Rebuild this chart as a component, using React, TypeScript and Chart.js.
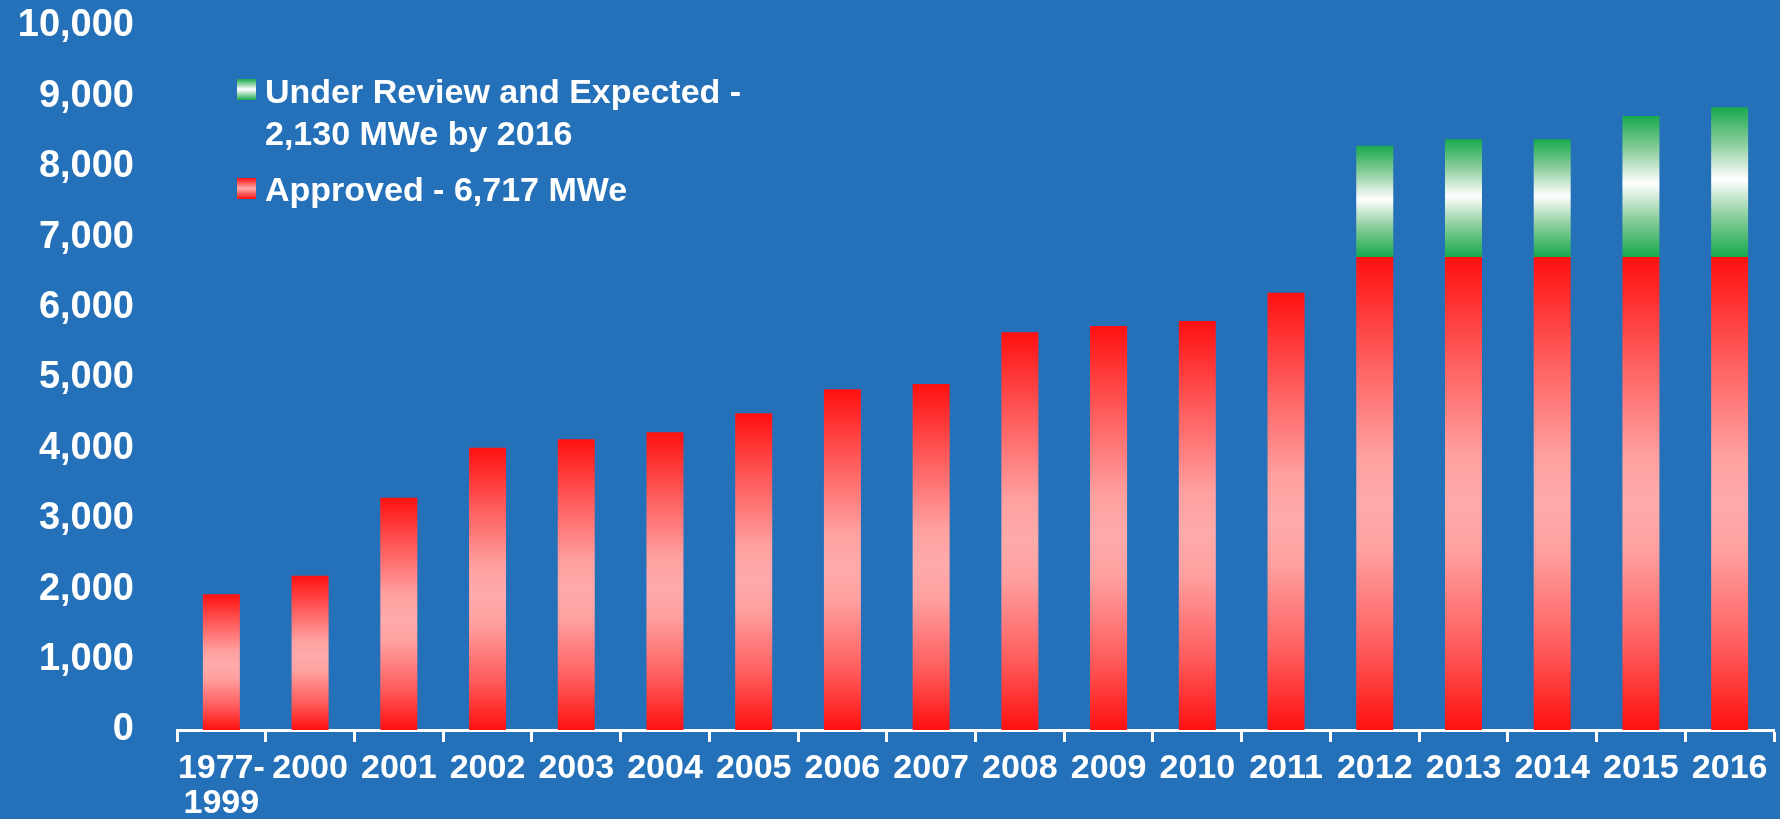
import React, { useEffect, useRef } from "react";
import { Chart, registerables } from "chart.js";

Chart.register(...registerables);

// Installed capacity by year (MWe)
const categories: (string | string[])[] = [
  ["1977-", "1999"],
  "2000",
  "2001",
  "2002",
  "2003",
  "2004",
  "2005",
  "2006",
  "2007",
  "2008",
  "2009",
  "2010",
  "2011",
  "2012",
  "2013",
  "2014",
  "2015",
  "2016",
];

const approved = [
  1930, 2190, 3300, 4010, 4130, 4230, 4500, 4840, 4915, 5650, 5740, 5810, 6210,
  6717, 6717, 6717, 6717, 6717,
];

const underReview: (number | null)[] = [
  null, null, null, null, null, null, null, null, null, null, null, null, null,
  1583, 1674, 1674, 2005, 2130,
];

const yTicks = [0, 1000, 2000, 3000, 4000, 5000, 6000, 7000, 8000, 9000, 10000];

const legendItems = [
  { lines: ["Under Review and Expected -", "2,130 MWe by 2016"], edge: "#17a94d", mid: "#ffffff" },
  { lines: ["Approved - 6,717 MWe"], edge: "#ff1010", mid: "#ffa9a9" },
];

const BG = "#2471b9";
const WHITE = "#ffffff";
const FONT = "'Liberation Sans', Arial, sans-serif";

// mirrored fills: saturated at both ends of each segment, light in the middle
const RED_STOPS: [number, string][] = [
  [0, "#ff1010"],
  [0.22, "#ff5e5e"],
  [0.42, "#ffa0a0"],
  [0.52, "#ffaaaa"],
  [0.62, "#ffa0a0"],
  [0.82, "#ff5e5e"],
  [1, "#ff1010"],
];
const GREEN_STOPS: [number, string][] = [
  [0, "#17a94d"],
  [0.25, "#8fcf9f"],
  [0.48, "#ffffff"],
  [0.72, "#8fcf9f"],
  [1, "#17a94d"],
];

function verticalGradient(chart: Chart, top: number, bottom: number, stops: [number, string][]) {
  const g = chart.ctx.createLinearGradient(0, top, 0, bottom);
  stops.forEach(([p, c]) => g.addColorStop(p, c));
  return g;
}

export default function App() {
  const canvasRef = useRef<HTMLCanvasElement | null>(null);

  useEffect(() => {
    const canvas = canvasRef.current;
    if (!canvas) return;

    const chart = new Chart(canvas, {
      type: "bar",
      data: {
        labels: categories,
        datasets: [
          {
            label: "Approved - 6,717 MWe",
            data: approved,
            backgroundColor: (ctx: any) => {
              const c = ctx.chart as Chart;
              const y = c.scales?.y;
              if (!c.chartArea || !y || ctx.dataIndex === undefined) return "#ff1010";
              const v = approved[ctx.dataIndex] ?? 0;
              return verticalGradient(c, y.getPixelForValue(v), y.getPixelForValue(0), RED_STOPS);
            },
            borderWidth: 0,
            barPercentage: 0.417,
            categoryPercentage: 1,
          },
          {
            label: "Under Review and Expected - 2,130 MWe by 2016",
            data: underReview,
            backgroundColor: (ctx: any) => {
              const c = ctx.chart as Chart;
              const y = c.scales?.y;
              if (!c.chartArea || !y || ctx.dataIndex === undefined) return "#17a94d";
              const base = approved[ctx.dataIndex] ?? 0;
              const v = underReview[ctx.dataIndex] ?? 0;
              return verticalGradient(c, y.getPixelForValue(base + v), y.getPixelForValue(base), GREEN_STOPS);
            },
            borderWidth: 0,
            barPercentage: 0.417,
            categoryPercentage: 1,
          },
        ],
      },
      options: {
        animation: false,
        responsive: false,
        maintainAspectRatio: false,
        layout: { padding: { left: 0, right: 6, top: 26, bottom: 0 } },
        plugins: {
          legend: { display: false },
          tooltip: { enabled: false },
        },
        scales: {
          x: {
            stacked: true,
            offset: true,
            grid: {
              display: true,
              offset: true,
              drawOnChartArea: false,
              drawTicks: true,
              tickLength: 12,
              tickColor: WHITE,
              tickWidth: 3,
            },
            border: { display: true, color: WHITE, width: 3 },
            ticks: {
              color: WHITE,
              autoSkip: false,
              maxRotation: 0,
              minRotation: 0,
              padding: 9.5,
              font: { family: FONT, size: 34, weight: "bold", lineHeight: 1.03 },
            },
            afterFit: (scale: any) => {
              scale.height = 89;
            },
          },
          y: {
            stacked: true,
            min: 0,
            max: 10000,
            // no visible ticks; tickLength only spaces the labels away from the plot
            grid: { display: false, drawTicks: true, tickLength: 43 },
            border: { display: false },
            afterBuildTicks: (scale: any) => {
              scale.ticks = yTicks.map((v) => ({ value: v }));
            },
            ticks: {
              color: WHITE,
              padding: 0,
              font: { family: FONT, size: 38, weight: "bold" },
              callback: (value: any) => Number(value).toLocaleString("en-US"),
            },
            afterFit: (scale: any) => {
              scale.width = 177;
            },
          },
        },
      },
    });

    return () => chart.destroy();
  }, []);

  const legendTops = [[71.4, 113], [169.4]];
  const boxTops = [79, 178];

  return (
    <div style={{ position: "relative", width: 1780, height: 819, background: BG, overflow: "hidden" }}>
      <style>{"html,body{margin:0;padding:0;background:" + BG + ";}"}</style>
      <canvas ref={canvasRef} width={1780} height={819} style={{ position: "absolute", left: 0, top: 0, width: 1780, height: 819 }} />
      {legendItems.map((item, i) => (
        <React.Fragment key={i}>
          <div
            style={{
              position: "absolute",
              left: 237,
              top: boxTops[i],
              width: 19,
              height: 21,
              background: `linear-gradient(to bottom, ${item.edge} 0%, ${item.mid} 50%, ${item.edge} 100%)`,
            }}
          />
          {item.lines.map((line, j) => (
            <div
              key={j}
              style={{
                position: "absolute",
                left: 265,
                top: legendTops[i][j],
                height: 40,
                lineHeight: "40px",
                fontFamily: FONT,
                fontWeight: "bold",
                fontSize: 34,
                color: WHITE,
                whiteSpace: "nowrap",
              }}
            >
              {line}
            </div>
          ))}
        </React.Fragment>
      ))}
    </div>
  );
}
